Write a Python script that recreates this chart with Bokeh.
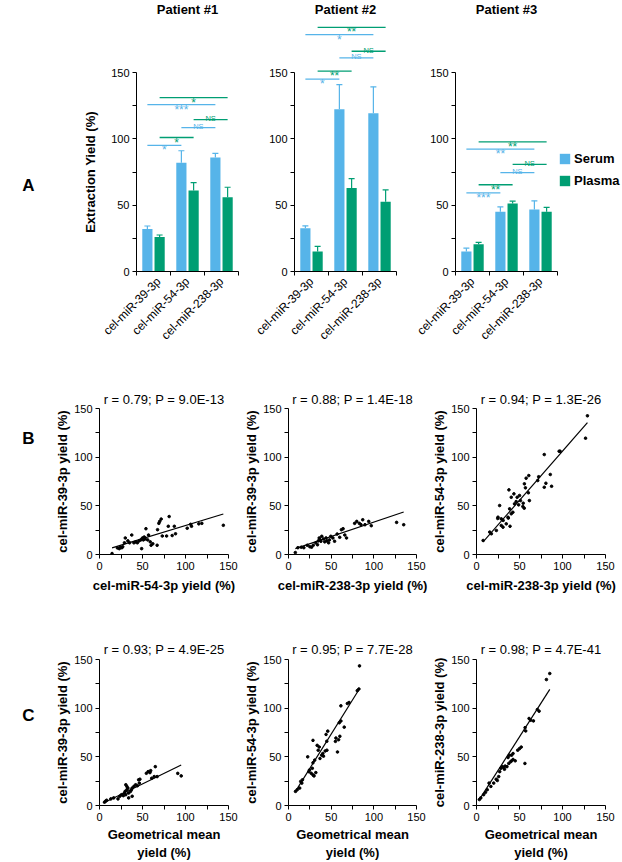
import numpy as np
from math import pi
from bokeh.plotting import figure
from bokeh.layouts import column, row
from bokeh.models import (ColumnDataSource, FixedTicker, Whisker, TeeHead, Label,
                          Legend, LegendItem, Range1d)
from bokeh.core.properties import value
from bokeh.embed import file_html
from bokeh.resources import INLINE

FONT = "Liberation Sans"
BLUE = "#56B4E9"
GREEN = "#009E73"

# ---------------- Row A : extraction yield bars ----------------
mirnas = ["cel-miR-39-3p", "cel-miR-54-3p", "cel-miR-238-3p"]
patients = ["Patient #1", "Patient #2", "Patient #3"]
serum_mean = [[32.0, 82.0, 86.0], [32.6, 122.3, 119.2], [15.0, 45.0, 46.7]]
serum_err = [[2.3, 9.0, 3.0], [1.8, 18.5, 20.0], [2.6, 3.7, 6.6]]
plasma_mean = [[26.0, 61.0, 56.0], [15.0, 63.0, 52.5], [20.5, 51.3, 45.0]]
plasma_err = [[1.5, 6.0, 7.5], [4.0, 7.0, 9.0], [1.4, 1.7, 3.3]]

sig_series = ["Serum", "Plasma", "Serum", "Plasma", "Serum", "Plasma"]
sig_from = [0, 0, 1, 1, 0, 0]
sig_to = [1, 1, 2, 2, 2, 2]
sig_y = [[95.0, 101.0, 108.5, 114.5, 125.8, 131.0],
         [145.0, 151.0, 161.0, 166.0, 178.5, 184.0],
         [59.2, 65.4, 74.6, 80.8, 92.3, 97.7]]
sig_text = [["*", "*", "NS", "NS", "***", "*"],
            ["*", "**", "NS", "NS", "*", "**"],
            ["***", "**", "NS", "NS", "**", "**"]]

# ---------------- Row B : pairwise correlations ----------------
b1_x = [14.6, 20.8, 23, 24, 26, 27, 29, 30, 33, 35, 37.5, 40, 42, 44, 46, 48, 49, 50, 51, 52,
        53, 54, 56, 57, 59, 60, 62, 67, 67.5, 69, 70, 71.7, 73, 78, 80, 81, 87, 102, 106, 107,
        119, 144, 84.5, 88.4, 115.5]
b1_y = [1, 6.8, 6, 7.5, 7, 8, 12, 17, 14, 12, 20, 12, 13, 12, 14, 15, 6, 17, 15, 18,
        16, 26.5, 15, 20, 13, 9.5, 11, 9.5, 25.5, 32, 34, 36.4, 19, 19, 29, 39, 29, 27, 31, 29,
        32, 30, 19.5, 21.3, 31.5]
b2_x = [8, 11, 15, 18, 22, 25, 27, 29, 32, 34, 35, 36, 37, 38, 39, 41, 42.5, 44, 45, 47,
        48, 49.6, 52, 54, 57, 60, 62, 64, 66, 68, 77.5, 80, 83, 85, 87, 89.6, 94, 97, 126.7, 135]
b2_y = [2, 7, 7.5, 7, 9.5, 8, 7.5, 9.5, 12, 10, 14, 17, 15, 13.6, 18.7, 16, 13, 17, 14, 12,
        15, 18.7, 17, 13.6, 21, 17.7, 25.5, 26.5, 20, 17, 32, 34, 32, 30.6, 35.7, 30.6, 34, 29.6, 33, 30.6]
b3_x = [7.7, 15.4, 17.3, 23.1, 28.8, 30.8, 34.6, 24.7, 31, 37, 39, 25, 28.8, 26.9, 36.6, 38.5,
        40.4, 42.3, 37.7, 40.4, 43.5, 44.2, 46.1, 47.3, 50, 51.1, 53.9, 56.9, 60.3, 61.5, 55.7,
        57.7, 60.8, 71.2, 72.3, 78.8, 80.7, 85.8, 87.3, 78.8, 96.1, 97.2, 126.8, 129, 49, 54.3, 55.5]
b3_y = [14.4, 23, 21.3, 24.7, 29.8, 28.1, 31.5, 37, 35, 37.4, 29, 38.3, 36.6, 50.3, 38.3, 46.9,
        41.8, 43.4, 66.4, 58.8, 62.3, 52, 54.4, 58.8, 60.6, 55.4, 49.3, 68.5, 63.4, 55.4, 72.6,
        78.4, 81.1, 76, 79.9, 69.1, 73.2, 82.2, 70.1, 102.7, 106.1, 106.1, 119.5, 142.5, 51, 52.7, 47.6]

# ---------------- Row C : vs geometrical mean ----------------
c1_x = [5.8, 7, 8.3, 13.2, 16.5, 21.5, 23.6, 25.6, 27.7, 28.9, 29.8, 30.6, 31.8, 33, 31.8, 30.6,
        33.9, 36, 37.2, 38, 40, 38, 33.9, 42, 44, 46.3, 45.5, 47, 54.5, 56.6, 58.7, 59.5, 60.7,
        63.6, 64.9, 67, 91, 95]
c1_y = [3.4, 4.4, 5.4, 6.8, 7.8, 6.8, 9.5, 11.1, 10.1, 12.8, 14.5, 11.1, 16.2, 17.9, 19.6, 21.3,
        12.8, 14.5, 16.2, 17.9, 19.6, 9.5, 7.8, 21.3, 20.3, 23, 26.4, 27, 33.1, 34.8, 33.8, 35.8, 28,
        29.7, 39.9, 29.7, 33, 30.4]
c2_x = [8.2, 10.2, 13.1, 14.3, 15.6, 16.4, 22.5, 23.8, 24.6, 26.6, 27.9, 28.7, 28.7, 30.7, 29.9,
        32, 28.7, 33.6, 36, 36.9, 38.9, 40.2, 41, 34.8, 43, 45, 57.4, 46, 44, 44.9, 55, 55.6, 58.7,
        60.2, 59.5, 61.4, 65.3, 61.4, 69, 71, 80.6, 82.5, 83.2]
c2_y = [14.5, 16.2, 17.9, 24.7, 23, 26.4, 50, 34.8, 36.5, 33.1, 38.2, 31.4, 43.9, 46.6, 30.4,
        33.8, 66.9, 61.8, 60.1, 48.3, 51.7, 53.4, 50.7, 56.8, 56, 56.8, 55, 76.4, 73, 66, 65.9, 69.3,
        67.6, 71.1, 85, 86.8, 80.5, 102.4, 104.8, 105.8, 118, 119.7, 143.4]
c3_x = [3.3, 5, 8.3, 10.4, 12.5, 14.6, 16.7, 20, 22.9, 24.2, 25.8, 27, 28.3, 30, 31.3, 32.5, 33.3,
        35.4, 37.5, 39.6, 40.8, 42.5, 36.7, 38.3, 45, 47.9, 50, 52, 42.5, 40.8, 56.3, 56.5, 57.2,
        61.1, 63, 66.2, 70.8, 72.8, 81.3, 85.2]
c3_y = [6.1, 7.8, 11.1, 13.5, 16.2, 23, 19.6, 23, 27, 25.7, 29.7, 34.8, 38.2, 39.9, 39.2, 37.2,
        40.5, 39.9, 43.2, 44.9, 45.9, 47.3, 49.3, 51.7, 45.9, 56.8, 58.4, 60, 53.4, 51.7, 43.2, 80,
        76.6, 89.4, 87.6, 86.9, 98.6, 96.9, 129.4, 135.6]

fit_slope = [0.269, 0.296, 1.011, 0.432, 1.406, 1.383]
fit_intercept = [2.9, 3.7, 5.1, 0.5, 3.0, 1.4]
corr_titles = ["r = 0.79; P = 9.0E-13", "r = 0.88; P = 1.4E-18", "r = 0.94; P = 1.3E-26",
               "r = 0.93; P = 4.9E-25", "r = 0.95; P = 7.7E-28", "r = 0.98; P = 4.7E-41"]
x_labels = ["cel-miR-54-3p yield (%)", "cel-miR-238-3p yield (%)", "cel-miR-238-3p yield (%)",
            "Geometrical mean\nyield (%)", "Geometrical mean\nyield (%)", "Geometrical mean\nyield (%)"]
y_labels = ["cel-miR-39-3p yield (%)", "cel-miR-39-3p yield (%)", "cel-miR-54-3p yield (%)",
            "cel-miR-39-3p yield (%)", "cel-miR-54-3p yield (%)", "cel-miR-238-3p yield (%)"]
bar_ylabel = "Extraction Yield (%)"
panel_letters = ["A", "B", "C"]

BAR_OFFSET = {"Serum": -0.18, "Plasma": 0.18}
COLOR = {"Serum": BLUE, "Plasma": GREEN}


def style_axes(p):
    for ax in p.axis:
        ax.axis_line_color = "black"
        ax.axis_line_width = 1
        ax.major_tick_line_color = "black"
        ax.minor_tick_line_color = "black"
        ax.major_tick_out = 4
        ax.major_tick_in = 0
        ax.minor_tick_out = 4
        ax.minor_tick_in = 0
        ax.major_label_text_font = FONT
        ax.major_label_text_font_size = "11px"
        ax.major_label_text_color = "black"
        ax.major_label_standoff = 3
        ax.axis_label_text_font = FONT
        ax.axis_label_text_font_size = "13px"
        ax.axis_label_text_font_style = "bold"
        ax.axis_label_text_color = "black"


def base_fig(width, height, xr, yr, left, right, top, bottom):
    p = figure(width=width, height=height, x_range=xr, y_range=yr,
               output_backend="svg", toolbar_location=None,
               min_border_left=left, min_border_right=right,
               min_border_top=top, min_border_bottom=bottom)
    p.outline_line_color = None
    p.grid.visible = False
    return p


def side_fig(width, height, frame_h):
    # narrow text column; its frame is aligned with the frames of the row
    p = figure(width=width, height=height, x_range=Range1d(0, width),
               y_range=Range1d(0, frame_h), output_backend="svg", toolbar_location=None,
               x_axis_type=None, y_axis_type=None, min_border=0)
    p.outline_line_color = None
    p.grid.visible = False
    return p


def letter(k, x, y):
    return Label(x=x, y=y, text=panel_letters[k], text_font=FONT, text_font_size="17px",
                 text_font_style="bold", text_align="center", text_baseline="middle",
                 text_color="black")


A_H, A_TOP, A_BOT = 352, 0, 81
A_FRAME_H = A_H - A_TOP - A_BOT
A_PX = 199.0 / 150.0
A_YMAX = A_FRAME_H / A_PX
A_TITLE_Y = A_YMAX - 9 / A_PX


def bar_panel(k, width, left, right, xmax):
    p = base_fig(width, A_H, Range1d(0, xmax), Range1d(0, A_YMAX), left, right, A_TOP, A_BOT)
    rend = {}
    for series, means, errs in (("Serum", serum_mean[k], serum_err[k]),
                                ("Plasma", plasma_mean[k], plasma_err[k])):
        xs = [g + 0.5 + BAR_OFFSET[series] for g in range(3)]
        src = ColumnDataSource(dict(x=xs, top=means,
                                    upper=[m + e for m, e in zip(means, errs)]))
        rend[series] = p.vbar(x="x", top="top", width=0.3, source=src,
                              fill_color=COLOR[series], line_color=None)
        p.add_layout(Whisker(base="x", lower="top", upper="upper", source=src,
                             line_color=COLOR[series], line_width=1.2,
                             upper_head=TeeHead(size=6, line_color=COLOR[series], line_width=1.2),
                             lower_head=None))
    x0 = [sig_from[j] + 0.5 + BAR_OFFSET[sig_series[j]] for j in range(6)]
    x1 = [sig_to[j] + 0.5 + BAR_OFFSET[sig_series[j]] for j in range(6)]
    cols = [COLOR[s] for s in sig_series]
    sig = ColumnDataSource(dict(x0=x0, x1=x1, xm=[(a + b) / 2 for a, b in zip(x0, x1)],
                                y=sig_y[k], t=sig_text[k], c=cols))
    p.segment(x0="x0", y0="y", x1="x1", y1="y", line_color="c", line_width=1.3, source=sig)
    star_idx = [j for j in range(6) if sig_text[k][j] != "NS"]
    ns_idx = [j for j in range(6) if sig_text[k][j] == "NS"]
    star = ColumnDataSource({key: [sig.data[key][j] for j in star_idx] for key in sig.data})
    ns = ColumnDataSource({key: [sig.data[key][j] for j in ns_idx] for key in sig.data})
    p.text(x="xm", y="y", text="t", text_color="c", source=star, text_font=value(FONT),
           text_font_size="12px", text_align="center", text_baseline="alphabetic", y_offset=5)
    p.text(x="xm", y="y", text="t", text_color="c", source=ns, text_font=value(FONT),
           text_font_size="7.5px", text_align="center", text_baseline="alphabetic", y_offset=-1)

    p.add_layout(Label(x=1.5, y=A_TITLE_Y, text=patients[k], text_font=FONT, text_font_size="13px",
                       text_font_style="bold", text_align="center", text_baseline="middle",
                       text_color="black"))
    p.xaxis.ticker = FixedTicker(ticks=[0.5, 1.5, 2.5], minor_ticks=[0, 1, 2, 3])
    p.xaxis.major_label_overrides = {0.5: mirnas[0], 1.5: mirnas[1], 2.5: mirnas[2]}
    p.xaxis.bounds = (0, 3)
    p.yaxis.ticker = FixedTicker(ticks=[0, 50, 100, 150], minor_ticks=[25, 75, 125])
    p.yaxis.bounds = (0, 150)
    style_axes(p)
    p.xaxis.major_tick_out = 0
    p.xaxis.major_label_orientation = pi / 4
    p.xaxis.major_label_text_font_size = "12px"
    p.xaxis.major_label_standoff = 4
    return p, rend


# Row A: side column carries the panel letter and the y-axis title (centred on 0-150)
la = side_fig(100, A_H, A_FRAME_H)
la.add_layout(letter(0, 28, A_FRAME_H - 185))
la.add_layout(Label(x=90, y=75 * A_PX, text=bar_ylabel, angle=pi / 2, text_font=FONT,
                    text_font_size="13px", text_font_style="bold", text_align="center",
                    text_baseline="middle", text_color="black"))
a1, _ = bar_panel(0, 150, 36, 12, 3.0)
a2, _ = bar_panel(1, 160, 44, 14, 3.0)
a3, r3 = bar_panel(2, 212, 45, 0, 167 / 34.0)
legend = Legend(items=[LegendItem(label="Serum", renderers=[r3["Serum"]]),
                       LegendItem(label="Plasma", renderers=[r3["Plasma"]])],
                location=(103, 83), orientation="vertical", padding=0, margin=0, spacing=7,
                glyph_width=13, glyph_height=13, label_height=13, label_standoff=3,
                label_text_font=FONT, label_text_font_size="13px", label_text_font_style="bold",
                label_text_color="black", border_line_color=None, background_fill_alpha=0)
a3.add_layout(legend)

scatter_data = [(b1_x, b1_y), (b2_x, b2_y), (b3_x, b3_y), (c1_x, c1_y), (c2_x, c2_y), (c3_x, c3_y)]
COLS = [(201, 59, 13), (188, 46, 13), (193, 46, 17)]
# height, top border, bottom border, title standoff
ROWS = [(268, 56, 66, 3), (242, 39, 56, 5)]


def scatter_panel(i):
    xs, ys = scatter_data[i]
    w, left, right = COLS[i % 3]
    h, top, bottom, tstand = ROWS[i // 3]
    p = base_fig(w, h, Range1d(0, 150), Range1d(0, 150), left, right, top, bottom)
    p.scatter(xs, ys, size=2.6, color="black", marker="circle")
    xa, xb = min(xs), max(xs)
    p.line([xa, xb], [fit_intercept[i] + fit_slope[i] * xa, fit_intercept[i] + fit_slope[i] * xb],
           line_color="black", line_width=1.2)
    for ax in (p.xaxis, p.yaxis):
        ax.ticker = FixedTicker(ticks=[0, 50, 100, 150], minor_ticks=[25, 75, 125])
    style_axes(p)
    p.xaxis.axis_label = x_labels[i]
    p.yaxis.axis_label = y_labels[i]
    p.yaxis.axis_label_standoff = 1
    p.xaxis.axis_label_standoff = 5 if i < 3 else 3
    p.title.text = corr_titles[i]
    p.title.align = "center"
    p.title.text_font = FONT
    p.title.text_font_size = "13px"
    p.title.text_font_style = "normal"
    p.title.text_color = "black"
    p.title.standoff = tstand
    return p


sp = [scatter_panel(i) for i in range(6)]

# frames of row B: y 408-554 (146 px); row C: y 659-806 (147 px)
lb = side_fig(40, ROWS[0][0], 146)
lb.add_layout(letter(1, 28, 554 - 438))
lc = side_fig(40, ROWS[1][0], 147)
lc.add_layout(letter(2, 28, 806 - 715))

layout = column(row(la, a1, a2, a3), row(lb, sp[0], sp[1], sp[2]), row(lc, sp[3], sp[4], sp[5]))
open("out.html", "w").write(file_html(layout, INLINE))
